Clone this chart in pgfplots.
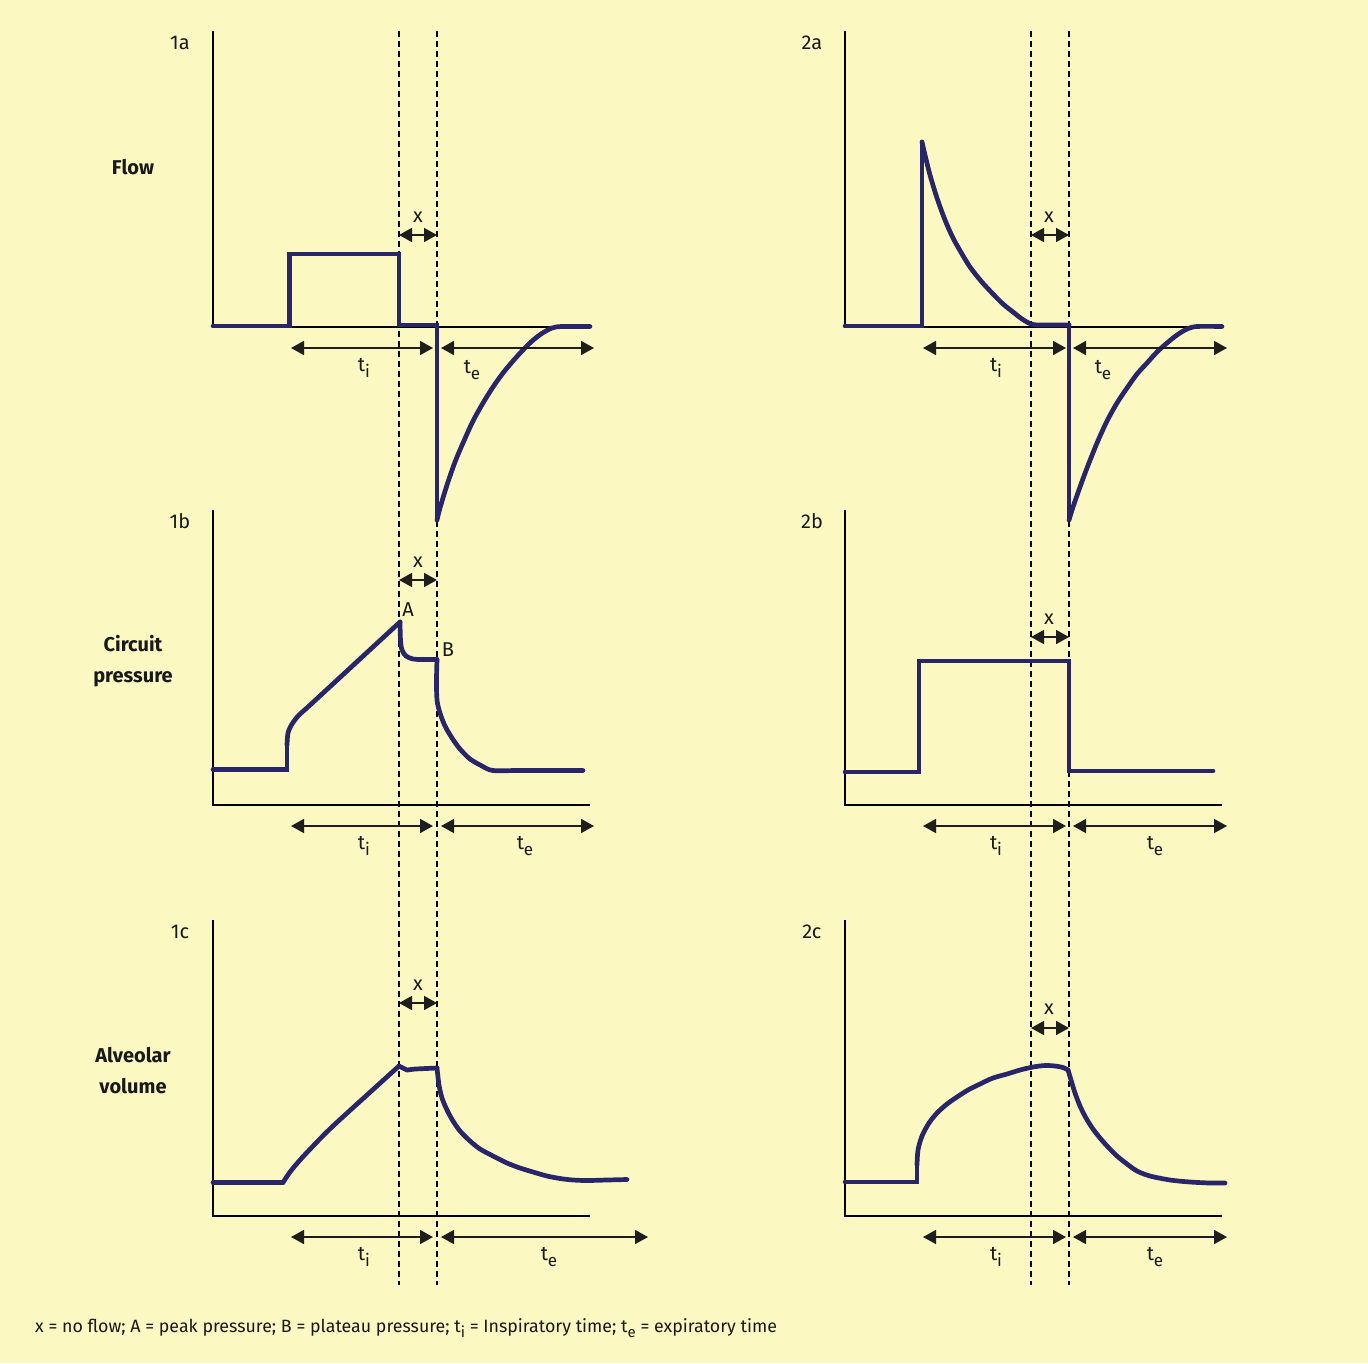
\documentclass[border=0pt]{standalone}
\usepackage{fontspec}
\setmainfont{Fira Sans}
\usepackage{pgfplots}
\pgfplotsset{compat=1.18}
\usetikzlibrary{arrows.meta}
\definecolor{bg}{HTML}{FBF8C1}
\definecolor{crvc}{HTML}{28256B}
\definecolor{arr}{HTML}{1E1E1E}
\newcommand{\sub}[1]{\raisebox{-0.32em}{\fontsize{17}{17}\selectfont #1}}
\newcommand{\fsub}[1]{\raisebox{-0.3em}{\fontsize{15}{15}\selectfont #1}}
\tikzset{
  crv/.style={crvc, line width=4.7pt, line join=miter, miter limit=4, line cap=round},
  crvs/.style={crv, smooth, tension=0.5},
  axl/.style={black, line width=1.3pt},
  dsh/.style={black, line width=1.2pt, dash pattern=on 6pt off 4pt},
  dim/.style={arr, line width=1.6pt, {Triangle[length=13pt,width=14pt]}-{Triangle[length=13pt,width=14pt]}},
  lab/.style={font=\fontsize{20}{23}\selectfont, text=black!90, inner sep=0pt},
  blab/.style={font=\fontsize{20}{31}\selectfont\bfseries, text=black!90, align=center, inner sep=0pt},
}
\begin{document}
\begin{tikzpicture}
\begin{axis}[x=1pt, y=1pt, xmin=0, xmax=1368, ymin=0, ymax=1363, y dir=reverse,
  axis line style={draw=none}, ticks=none, axis background/.style={fill=bg},
  enlargelimits=false, clip=true]

% dashed guide lines
\addplot[dsh, no markers] coordinates {(399,31) (399,1285)};
\addplot[dsh, no markers] coordinates {(437,31) (437,1285)};
\addplot[dsh, no markers] coordinates {(1031,31) (1031,1285)};
\addplot[dsh, no markers] coordinates {(1069,31) (1069,1285)};

% axes
\addplot[axl, no markers] coordinates {(213,31) (213,327)};
\addplot[axl, no markers] coordinates {(213,327) (590,327)};
\addplot[axl, no markers] coordinates {(213,510) (213,805) (590,805)};
\addplot[axl, no markers] coordinates {(213,920) (213,1216) (590,1216)};
\addplot[axl, no markers] coordinates {(845,31) (845,327)};
\addplot[axl, no markers] coordinates {(845,327) (1222,327)};
\addplot[axl, no markers] coordinates {(845,510) (845,805) (1222,805)};
\addplot[axl, no markers] coordinates {(845,920) (845,1216) (1222,1216)};

% 1a flow
\addplot[crv, no markers] coordinates {(213,326) (289.5,326) (289.5,254) (399,254) (399,325) (437,325) (437,520)};
\addplot[crvs, no markers] coordinates {(437,520) (440,508) (447,485) (455,462) (463,443) (473,421) (483,403) (493,387) (503,373) (513,361) (522,351) (531,342) (541,334) (552,328) (562,326.5) (590,326.5)};

% 1b pressure
\addplot[crv, no markers] coordinates {(213,769.5) (287,769.5) (287,745)};
\addplot[crvs, no markers] coordinates {(287,745) (288,733) (292,724) (299,715) (309,706) (354.5,664) (400,622)};
\addplot[crvs, no markers] coordinates {(400,622) (400.5,640) (402,650) (406,656) (413,659) (422,659.5) (437,659.5)};
\addplot[crvs, no markers] coordinates {(437,659.5) (436.5,680) (437,700) (440,713) (445,726) (452,738) (460,749) (470,759) (482,766) (493,770.5) (520,770.5) (583,770.5)};

% 1c volume
\addplot[crv, no markers] coordinates {(213,1182.5) (283,1182.5)};
\addplot[crvs, no markers] coordinates {(283,1182.5) (290,1172) (300,1160) (315,1144) (333,1126) (367,1095) (399,1066)};
\addplot[crv, no markers] coordinates {(399,1066) (407,1070) (415,1069) (437,1068)};
\addplot[crvs, no markers] coordinates {(437,1068) (439,1085) (442,1098) (447,1110) (453,1121) (460,1131) (470,1141) (480,1149) (493,1156) (507,1163) (520,1168) (533,1172) (547,1176) (560,1178.5) (573,1180) (587,1180.5) (607,1180) (627,1179.5)};

% 2a flow
\addplot[crv, no markers] coordinates {(845,326) (922,326) (922,142)};
\addplot[crvs, no markers] coordinates {(922,142) (925,155) (930,175) (937,198) (945,220) (953,238) (962,254) (970,267) (981,281) (993,294) (1003,304) (1013,312) (1022,319) (1031,324) (1040,325) (1069,325)};
\addplot[crv, no markers] coordinates {(1069,325) (1069,520)};
\addplot[crvs, no markers] coordinates {(1069,520) (1073,507) (1080,487) (1087,468) (1097,443) (1107,421) (1117,403) (1127,388) (1137,374) (1147,363) (1157,352) (1167,343) (1177,335) (1187,329) (1197,326.5) (1222,326.5)};

% 2b pressure
\addplot[crv, no markers] coordinates {(845,772) (919,772) (919,661) (1069,661) (1069,771) (1213,771)};

% 2c volume
\addplot[crv, no markers] coordinates {(845,1182) (917,1182) (917,1165)};
\addplot[crvs, no markers] coordinates {(917,1165) (918,1150) (922,1136) (929,1123) (937,1113) (947,1104) (957,1097) (968,1090) (980,1084) (993,1078) (1007,1074) (1020,1070) (1033,1067) (1045,1065.5) (1055,1066) (1063,1067.5) (1068,1070)};
\addplot[crvs, no markers] coordinates {(1068,1070) (1071,1080) (1075,1093) (1080,1106) (1086,1118) (1093,1129) (1100,1138) (1108,1147) (1117,1156) (1127,1164) (1137,1171) (1150,1176) (1170,1180) (1190,1182) (1210,1183) (1225,1183)};

% dimension arrows: x (no flow)
\addplot[dim, no markers] coordinates {(399,235) (437,235)};
\addplot[dim, no markers] coordinates {(399,580) (437,580)};
\addplot[dim, no markers] coordinates {(399,1003) (437,1003)};
\addplot[dim, no markers] coordinates {(1031,235) (1069,235)};
\addplot[dim, no markers] coordinates {(1031,637) (1069,637)};
\addplot[dim, no markers] coordinates {(1031,1028) (1069,1028)};
% ti / te
\addplot[dim, no markers] coordinates {(291,348) (433,348)};
\addplot[dim, no markers] coordinates {(441,348) (594,348)};
\addplot[dim, no markers] coordinates {(291,826) (433,826)};
\addplot[dim, no markers] coordinates {(441,826) (594,826)};
\addplot[dim, no markers] coordinates {(291,1237) (433,1237)};
\addplot[dim, no markers] coordinates {(441,1237) (648,1237)};
\addplot[dim, no markers] coordinates {(923,348) (1066,348)};
\addplot[dim, no markers] coordinates {(1073,348) (1227,348)};
\addplot[dim, no markers] coordinates {(923,826) (1066,826)};
\addplot[dim, no markers] coordinates {(1073,826) (1227,826)};
\addplot[dim, no markers] coordinates {(923,1237) (1066,1237)};
\addplot[dim, no markers] coordinates {(1073,1237) (1227,1237)};

% panel labels
\node[lab] at (180,43) {1a};
\node[lab] at (180,521) {1b};
\node[lab] at (180,932) {1c};
\node[lab] at (812,43) {2a};
\node[lab] at (812,521) {2b};
\node[lab] at (812,932) {2c};
% row labels
\node[blab] at (133,167) {Flow};
\node[blab] at (133,661) {Circuit\\pressure};
\node[blab] at (133,1071) {Alveolar\\volume};
% x labels
\node[lab] at (418,217) {x};
\node[lab] at (418,562) {x};
\node[lab] at (418,985) {x};
\node[lab] at (1049,217) {x};
\node[lab] at (1049,619) {x};
\node[lab] at (1049,1009) {x};
\node[lab] at (408,610) {A};
\node[lab] at (448,650) {B};
% ti / te labels
\node[lab] at (364,368) {t\sub{i}};
\node[lab] at (364,846) {t\sub{i}};
\node[lab] at (364,1257) {t\sub{i}};
\node[lab] at (996,368) {t\sub{i}};
\node[lab] at (996,846) {t\sub{i}};
\node[lab] at (996,1257) {t\sub{i}};
\node[lab] at (472,370) {t\sub{e}};
\node[lab] at (525,846) {t\sub{e}};
\node[lab] at (549,1257) {t\sub{e}};
\node[lab] at (1103,370) {t\sub{e}};
\node[lab] at (1155,846) {t\sub{e}};
\node[lab] at (1155,1257) {t\sub{e}};
% footnote
\node[anchor=west, inner sep=0pt, font=\fontsize{17.8}{20}\selectfont, text=black!90] at (35,1328)
  {x = no flow; A = peak pressure; B = plateau pressure; t\fsub{i} = Inspiratory time; t\fsub{e} = expiratory time};
\end{axis}
\end{tikzpicture}
\end{document}
